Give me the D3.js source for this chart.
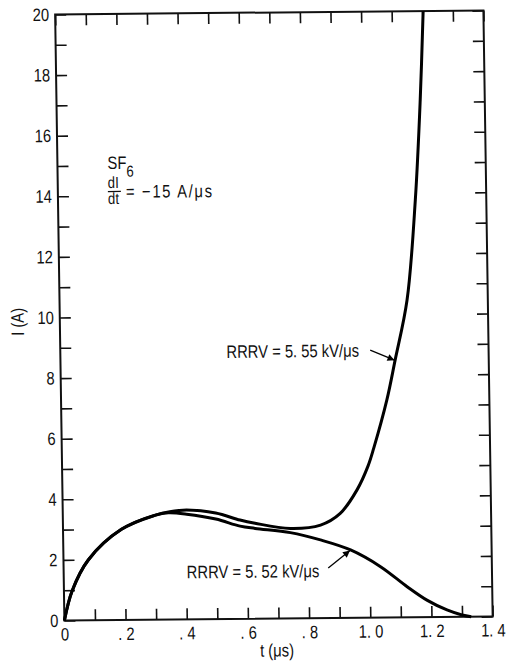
<!DOCTYPE html>
<html><head><meta charset="utf-8">
<script src="https://cdn.jsdelivr.net/npm/d3@7/dist/d3.min.js"></script>
<style>
body{margin:0;background:#fff}
text{font-family:"Liberation Sans",Arial,sans-serif;fill:#111}
</style>
</head><body>
<svg id="c" width="507" height="664"></svg>
<script>
// ---- data ----
const seriesNames = ["RRRV = 5. 55 kV/μs", "RRRV = 5. 52 kV/μs"];
const tUpper = [0,0.027,0.081,0.191,0.303,0.35,0.405,0.5,0.579,0.628,0.743,0.842,0.907,0.963,1.0,1.02,1.065,1.094,1.136,1.168,1.189,1.203];
const iUpper = [0,0.98,1.99,2.99,3.45,3.56,3.61,3.5,3.26,3.15,2.97,3.07,3.45,4.22,5.0,5.6,7.18,8.49,10.47,13.77,17.07,20];
const tLower = [0,0.027,0.081,0.191,0.303,0.345,0.405,0.5,0.579,0.628,0.743,0.841,0.939,1.036,1.122,1.186,1.251,1.3,1.33];
const iLower = [0,0.98,1.99,2.99,3.45,3.52,3.47,3.3,3.06,2.98,2.83,2.58,2.24,1.68,1.01,0.56,0.23,0.06,0];
const xTicks = [0,0.1,0.2,0.3,0.4,0.5,0.6,0.7,0.8,0.9,1.0,1.1,1.2,1.3,1.4];
const xTickLabels = ["0","",". 2","",". 4","",". 6","",". 8","","1. 0","","1. 2","","1. 4"];
const yTicks = d3.range(0,21,1);
const yTickLabels = yTicks.map(v => v % 2 === 0 ? String(v) : "");

// ---- layout ----
const W = 428, H = 606, SX = 0.82;
const svg = d3.select("#c");
const g = svg.append("g").attr("transform","matrix(1.0006,-0.00935,0.01526,1.0,55.15,14.5)");
const x = d3.scaleLinear().domain([0,1.4]).range([0,W]);
const y = d3.scaleLinear().domain([0,20]).range([H,0]);

function txt(parent, px, py, str, size, anchor){
  return parent.append("text")
    .attr("transform",`translate(${px},${py}) scale(${SX},1)`)
    .attr("text-anchor",anchor||"start").attr("font-size",size).text(str);
}

const TS = 11;
function styleAxis(sel){
  sel.select(".domain").remove();
  sel.selectAll(".tick line").attr("stroke","#111").attr("stroke-width",1.6);
}
// bottom
const gb = g.append("g").attr("transform",`translate(0,${H})`)
  .call(d3.axisBottom(x).tickValues(xTicks).tickSize(-TS).tickFormat((d,i)=>xTickLabels[i]));
styleAxis(gb);
gb.selectAll(".tick text").attr("y",20).attr("dy",0).attr("font-size",18).attr("font-family",null)
  .attr("transform",`scale(${SX},1)`);
// top
const gt = g.append("g").call(d3.axisTop(x).tickValues(xTicks).tickSize(-TS).tickFormat(""));
styleAxis(gt);
// left
const gl = g.append("g").call(d3.axisLeft(y).tickValues(yTicks).tickSize(-TS).tickPadding(6).tickFormat((d,i)=>yTickLabels[i]));
styleAxis(gl);
gl.selectAll(".tick text").attr("font-size",18).attr("font-family",null)
  .attr("x",-6/SX).attr("transform",`scale(${SX},1)`);
// right
const gr = g.append("g").attr("transform",`translate(${W},0)`)
  .call(d3.axisRight(y).tickValues(yTicks).tickSize(-TS).tickFormat(""));
styleAxis(gr);

// frame
g.append("rect").attr("x",0).attr("y",0).attr("width",W).attr("height",H)
  .attr("fill","none").attr("stroke","#111").attr("stroke-width",2);

// axis titles
txt(g, 212, 644, "t (μs)", 18, "middle");
g.append("text").attr("transform",`translate(-36,307) rotate(-90) scale(${SX},1)`)
  .attr("text-anchor","middle").attr("font-size",18).text("I (A)");

// curves
const line = d3.line().x(d=>x(d[0])).y(d=>y(d[1])).curve(d3.curveCatmullRom.alpha(0.5));
const up = tUpper.map((t,i)=>[t,iUpper[i]]);
const lo = tLower.map((t,i)=>[t,iLower[i]]);
g.append("path").datum(lo).attr("d",line).attr("fill","none").attr("stroke","#000").attr("stroke-width",3);
g.append("path").datum(up).attr("d",line).attr("fill","none").attr("stroke","#000").attr("stroke-width",3);

// annotations
svg.append("defs").append("marker").attr("id","ah").attr("viewBox","0 0 10 10").attr("refX",10).attr("refY",5)
  .attr("markerWidth",10).attr("markerHeight",7).attr("markerUnits","userSpaceOnUse").attr("orient","auto")
  .append("path").attr("d","M0,0 L10,5 L0,10 z").attr("fill","#000");
txt(g, 166, 345, seriesNames[0], 18);
txt(g, 123, 565, seriesNames[1], 18);
g.append("line").attr("x1",x(1.013)).attr("y1",y(8.83)).attr("x2",x(1.092)).attr("y2",y(8.49))
  .attr("stroke","#000").attr("stroke-width",1.3).attr("marker-end","url(#ah)");
g.append("line").attr("x1",x(0.865)).attr("y1",y(1.65)).attr("x2",x(0.937)).attr("y2",y(2.22))
  .attr("stroke","#000").attr("stroke-width",1.3).attr("marker-end","url(#ah)");

// SF6, dI/dt
const st = g.append("text").attr("transform",`translate(50,155) scale(${SX},1)`).attr("font-size",18);
st.append("tspan").text("SF");
st.append("tspan").attr("font-size",16).attr("dy",8).text("6");
txt(g, 50, 174, "dI", 16);
g.append("line").attr("x1",50).attr("x2",63).attr("y1",177.5).attr("y2",177.5).attr("stroke","#111").attr("stroke-width",1.3);
txt(g, 50, 190, "dt", 16);
txt(g, 68, 184, "= −15 A/μs", 18)
  .attr("textLength", 86 / SX).attr("lengthAdjust","spacing");
</script>
</body></html>
